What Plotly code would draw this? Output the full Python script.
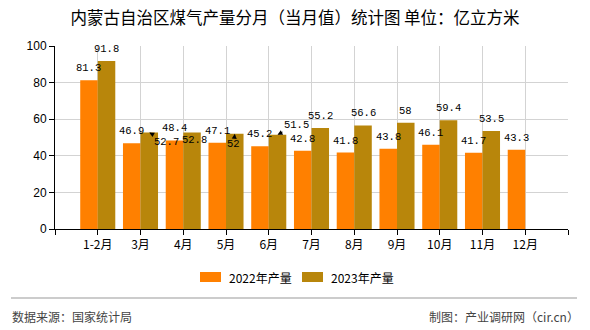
import plotly.graph_objects as go

categories = ["1-2月", "3月", "4月", "5月", "6月", "7月", "8月", "9月", "10月", "11月", "12月"]
output_2022 = [81.3, 46.9, 48.4, 47.1, 45.2, 42.8, 41.8, 43.8, 46.1, 41.7, 43.3]
output_2023 = [91.8, 52.7, 52.8, 52, 51.5, 55.2, 56.6, 58, 59.4, 53.5, None]
series_names = ["2022年产量", "2023年产量"]
colors = ["#FF8000", "#B8860B"]
y_ticks = [0, 20, 40, 60, 80, 100]

W, H = 590, 330
ML, MR, MT, MB = 55, 22, 46, 101
PW, PH = W - ML - MR, H - MT - MB

def px_x(p):
    return (p - ML) / PW

def px_y(p):
    return (H - MB - p) / PH

pos = list(range(1, len(categories) + 1))
bargap = 0.18
bw = (1 - bargap) / 2

fig = go.Figure()
for name, vals, col in zip(series_names, [output_2022, output_2023], colors):
    fig.add_trace(go.Bar(x=pos, y=vals, name=name, marker=dict(color=col, line=dict(width=0)),
                         showlegend=False))

CJK = "Noto Sans CJK SC"
MONO = "Liberation Mono"
annotations = []
# special displaced labels for the 2023 series: index -> (dx, dy, arrow)
special = {1: (17, 9, True), 2: (2, 8, False), 3: (-1, 10, True), 4: (19, -10, True)}
for si, vals in enumerate([output_2022, output_2023]):
    off = -bw / 2 if si == 0 else bw / 2
    for i, v in enumerate(vals):
        if v is None:
            continue
        txt = f"{v:g}"
        base = dict(x=pos[i] + off, y=v, text=txt, xref="x", yref="y",
                    font=dict(family=MONO, size=10.5, color="#000"))
        if si == 1 and i in special:
            dx, dy, arrow = special[i]
            if arrow:
                annotations.append(dict(**base, showarrow=True, ax=dx, ay=dy,
                                        arrowhead=2, arrowsize=1, arrowwidth=1,
                                        arrowcolor="#000", standoff=0))
            else:
                annotations.append(dict(**base, showarrow=False, xshift=dx, yshift=-dy))
        else:
            annotations.append(dict(**base, showarrow=False, yshift=12, yanchor="middle"))

# manual legend
shapes = []
legend_items = [(200, 227), (302, 329)]
for (rx, tx), name, col in zip(legend_items, series_names, colors):
    shapes.append(dict(type="rect", xref="paper", yref="paper",
                       x0=px_x(rx), x1=px_x(rx + 21), y0=px_y(282), y1=px_y(272),
                       fillcolor=col, line=dict(width=0)))
    annotations.append(dict(xref="paper", yref="paper", x=px_x(tx), y=px_y(277),
                            xanchor="left", yanchor="middle", showarrow=False, text=name,
                            font=dict(family=CJK, size=12, color="#000")))

# separator and footer
shapes.append(dict(type="line", xref="paper", yref="paper", x0=px_x(11), x1=px_x(577),
                   y0=px_y(298), y1=px_y(298), line=dict(color="#999", width=1)))
annotations.append(dict(xref="paper", yref="paper", x=px_x(10), y=px_y(316), xanchor="left",
                        yanchor="middle", showarrow=False, text="数据来源：国家统计局",
                        font=dict(family=CJK, size=12, color="#444")))
annotations.append(dict(xref="paper", yref="paper", x=px_x(581), y=px_y(316), xanchor="right",
                        yanchor="middle", showarrow=False, text="制图：产业调研网（cir.cn）",
                        font=dict(family=CJK, size=12, color="#444")))

fig.update_layout(
    width=W, height=H,
    margin=dict(l=ML, r=MR, t=MT, b=MB),
    paper_bgcolor="white", plot_bgcolor="white",
    barmode="group", bargap=bargap, bargroupgap=0,
    title=dict(text="内蒙古自治区煤气产量分月（当月值）统计图 单位：亿立方米",
               x=0.5, xanchor="center", y=1 - 18 / H, yanchor="middle",
               font=dict(family=CJK, size=16.5, color="#000")),
    xaxis=dict(range=[0, len(categories) + 1], tickmode="array",
               tickvals=[0] + pos + [len(categories) + 1],
               ticktext=[""] + categories + [""],
               showgrid=True, gridcolor="#d3d3d3", gridwidth=1,
               showline=True, linecolor="#000", linewidth=1,
               ticks="outside", ticklen=5, tickcolor="#000",
               tickfont=dict(family=CJK, size=12, color="#000"), zeroline=False),
    yaxis=dict(range=[0, 100], tickmode="array", tickvals=y_ticks,
               showgrid=True, gridcolor="#d3d3d3", gridwidth=1,
               showline=True, linecolor="#000", linewidth=1,
               ticks="outside", ticklen=5, tickcolor="#000",
               tickfont=dict(family="Liberation Sans", size=12, color="#000"), zeroline=False),
    annotations=annotations, shapes=shapes,
)

fig.write_html("out.html")
